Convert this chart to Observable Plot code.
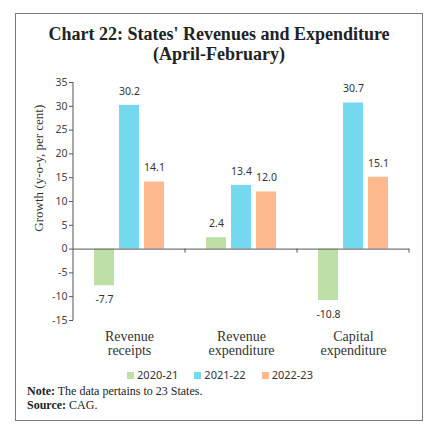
<!DOCTYPE html>
<html>
<head>
<meta charset="utf-8">
<script src="https://cdn.jsdelivr.net/npm/d3@7"></script>
<script src="https://cdn.jsdelivr.net/npm/@observablehq/plot@0.6"></script>
<style>
  html, body { margin: 0; padding: 0; background: #fff; }
  body { width: 430px; height: 438px; position: relative; overflow: hidden; }
  #frame { position: absolute; left: 15px; top: 13px; width: 408px; height: 408px;
           border: 1.5px solid #7a7a7a; box-sizing: border-box; }
  #title { position: absolute; left: 15px; width: 408px; top: 24px; text-align: center;
           font-family: "Liberation Serif", serif; font-weight: bold; font-size: 18px;
           line-height: 20px; color: #222; }
  #chart { position: absolute; left: 0; top: 70px; }
  #legend { position: absolute; left: 0; width: 440px; top: 368px; text-align: center;
            font-family: "Noto Sans", sans-serif; font-size: 11px; line-height: 14px; color: #333; }
  #legend span.item { display: inline-block; margin: 0 8px; }
  #legend span.sw { display: inline-block; width: 7px; height: 7px; margin-right: 3px; vertical-align: 0px; }
  #notes { position: absolute; left: 27px; top: 384px; font-family: "Liberation Serif", serif;
           font-size: 12px; line-height: 14px; color: #222; }
</style>
</head>
<body>
<div id="frame"></div>
<div id="title">Chart 22: States' Revenues and Expenditure<br>(April-February)</div>
<div id="chart"></div>
<div id="legend"></div>
<div id="notes"><b>Note:</b> The data pertains to 23 States.<br><b>Source:</b> CAG.</div>
<script>
const categories = ["Revenue\nreceipts", "Revenue\nexpenditure", "Capital\nexpenditure"];
const years = ["2020-21", "2021-22", "2022-23"];
const values2020 = [-7.7, 2.4, -10.8];
const values2021 = [30.2, 13.4, 30.7];
const values2022 = [14.1, 12.0, 15.1];
const colors = ["#bde0a7", "#74d8ef", "#feb98f"];
const yTicks = [-15, -10, -5, 0, 5, 10, 15, 20, 25, 30, 35];
const yLabel = "Growth (y-o-y, per cent)";

const series = [values2020, values2021, values2022];
const data = categories.flatMap((c, i) => years.map((yr, j) => ({category: c, year: yr, value: series[j][i]})));

const chart = Plot.plot({
  width: 430,
  height: 295,
  marginLeft: 73,
  marginRight: 21,
  marginTop: 12,
  marginBottom: 45,
  style: {fontFamily: "Noto Sans", fontSize: "10.5px", color: "#444", background: "transparent"},
  fx: {domain: categories, padding: 0, label: null},
  x: {domain: years, paddingInner: 0.2, paddingOuter: 0.84, axis: null},
  y: {domain: [-15, 35], label: null},
  color: {domain: years, range: colors},
  marks: [
    Plot.barY(data, {fx: "category", x: "year", y: "value", fill: "year"}),
    Plot.ruleY([0], {stroke: "#555", strokeWidth: 1}),
    Plot.text(data.filter(d => d.value >= 0), {fx: "category", x: "year", y: "value", text: d => d.value.toFixed(1), dy: -14, fill: "#333"}),
    Plot.text(data.filter(d => d.value < 0), {fx: "category", x: "year", y: "value", text: d => d.value.toFixed(1), dy: 14, fill: "#333"}),
    Plot.axisY({ticks: yTicks, tickSize: 4, tickPadding: 2, tickFormat: d => String(d), label: yLabel,
                labelArrow: "none", labelAnchor: "center", labelOffset: 40, stroke: "#555", fill: "#444"}),
    Plot.axisFx({anchor: "bottom", tickSize: 0, tickPadding: 11, label: null,
                 fontFamily: "Liberation Serif", fontSize: 14, lineHeight: 1, fill: "#333"})
  ]
});
document.getElementById("chart").appendChild(chart);

// axis decorations derived from the plot's own scales
const svg = d3.select(chart);
const ys = chart.scale("y");
const fxs = chart.scale("fx");
const x0 = fxs.apply(categories[0]);
svg.append("line").attr("x1", x0).attr("x2", x0).attr("y1", ys.apply(35)).attr("y2", ys.apply(-15))
  .attr("stroke", "#555").attr("stroke-width", 1);
categories.forEach(c => {
  const xb = fxs.apply(c) + fxs.bandwidth;
  svg.append("line").attr("x1", xb).attr("x2", xb).attr("y1", ys.apply(0)).attr("y2", ys.apply(0) + 4)
    .attr("stroke", "#555").attr("stroke-width", 1);
});
// y-axis label: serif font, centred on the upper part as in the original
svg.selectAll('g[aria-label="y-axis label"] text').each(function() {
  const t = d3.select(this);
  t.attr("font-family", "Liberation Serif").attr("font-size", 13).attr("fill", "#333");
  const tr = t.attr("transform");
  const m = /translate\(([-\d.]+),([-\d.]+)\)/.exec(tr || "");
  if (m) t.attr("transform", tr.replace(m[0], `translate(${m[1]},${ys.apply(17)})`));
});

// legend
const legend = document.getElementById("legend");
years.forEach((yr, i) => {
  const item = document.createElement("span");
  item.className = "item";
  item.innerHTML = `<span class="sw" style="background:${colors[i]}"></span>${yr}`;
  legend.appendChild(item);
});
</script>
</body>
</html>
